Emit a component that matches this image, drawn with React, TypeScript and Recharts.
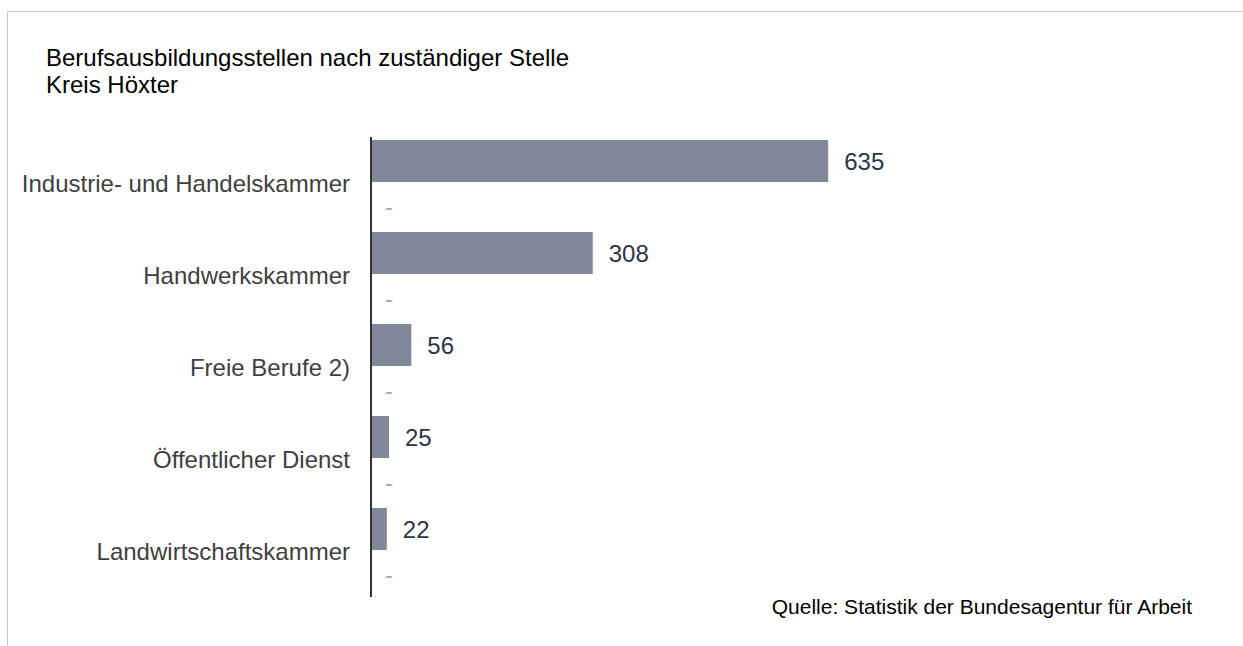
import { BarChart, Bar, XAxis, YAxis, LabelList } from "recharts";

const categories = [
  "Industrie- und Handelskammer",
  "Handwerkskammer",
  "Freie Berufe 2)",
  "Öffentlicher Dienst",
  "Landwirtschaftskammer",
];
const stellen = [635, 308, 56, 25, 22];
// second series has no values, shown as "-"
const vorjahr = [0, 0, 0, 0, 0];
const vorjahrLabels = ["-", "-", "-", "-", "-"];

const data = categories.map((name, i) => ({
  name,
  stellen: stellen[i],
  vorjahr: vorjahr[i],
  marker: vorjahrLabels[i],
}));

const FONT = "'Liberation Sans', Arial, sans-serif";

export default function App() {
  return (
    <div style={{ position: "absolute", left: 0, top: 0, width: 1243, height: 646, fontFamily: FONT, background: "#fff" }}>
      <div
        style={{
          position: "absolute",
          left: 7,
          top: 11,
          right: 0,
          bottom: 0,
          borderTop: "1px solid #c8c8c8",
          borderLeft: "1px solid #c8c8c8",
        }}
      />
      <div style={{ position: "absolute", left: 46, top: 44, fontSize: 24, lineHeight: "27px", color: "#000" }}>
        <div>Berufsausbildungsstellen nach zuständiger Stelle</div>
        <div>Kreis Höxter</div>
      </div>
      <BarChart
        width={1243}
        height={646}
        data={data}
        layout="vertical"
        margin={{ top: 137, right: 368, bottom: 49, left: 0 }}
        barSize={42}
        barGap={3}
        style={{ position: "absolute", left: 0, top: 0 }}
      >
        <XAxis type="number" domain={[0, 700]} hide />
        <YAxis
          type="category"
          dataKey="name"
          width={371}
          tickLine={false}
          tickSize={0}
          tickMargin={21}
          axisLine={{ stroke: "#333", strokeWidth: 2 }}
          tick={{ fontSize: 24, fill: "#404040", fontFamily: FONT }}
        />
        <Bar dataKey="stellen" fill="#7f8799" isAnimationActive={false}>
          <LabelList dataKey="stellen" position="right" offset={16} style={{ fontSize: 24, fill: "#2e3448", fontFamily: FONT }} />
        </Bar>
        <Bar dataKey="vorjahr" fill="transparent" minPointSize={1} isAnimationActive={false}>
          <LabelList dataKey="marker" position="right" offset={13} style={{ fontSize: 24, fill: "#aaaaaa", fontFamily: FONT }} />
        </Bar>
      </BarChart>
      <div
        style={{
          position: "absolute",
          right: 51,
          top: 596,
          fontSize: 21,
          lineHeight: "21px",
          color: "#000",
          whiteSpace: "nowrap",
        }}
      >
        Quelle: Statistik der Bundesagentur für Arbeit
      </div>
    </div>
  );
}
